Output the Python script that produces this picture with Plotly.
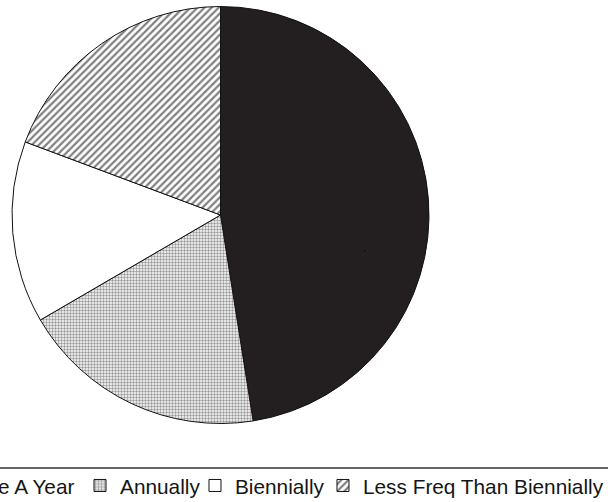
import plotly.graph_objects as go

# Survey shares by frequency (percent of respondents)
categories = ["More Than Once A Year", "Annually", "Biennially", "Less Freq Than Biennially"]
shares = [47.5, 19.1, 14.1, 19.3]

# Monochrome print styling: solid black, stipple, plain white, diagonal hatch
fills = ["#231f20", "#ffffff", "#ffffff", "#ffffff"]
shapes = ["", ".", "", "/"]
pattern_fg = ["#231f20", "#9a9a9a", "#ffffff", "#808080"]
pattern_size = [6, 3, 6, 5]
pattern_solidity = [0.3, 0.5, 0.3, 0.45]

legend_ids = ["legend", "legend2", "legend3", "legend4"]
legend_x = [-0.306, 0.1316, 0.3207, 0.5312]

FONT = dict(family="Liberation Sans, Arial, sans-serif", size=20.8, color="#151515")

fig = go.Figure()

# Main pie, starting at 12 o'clock and running clockwise
fig.add_trace(go.Pie(
    labels=categories,
    values=shares,
    sort=False,
    direction="clockwise",
    rotation=0,
    textinfo="none",
    hoverinfo="label+percent",
    showlegend=False,
    domain=dict(x=[12 / 608, 429 / 608], y=[78.5 / 502, 495.5 / 502]),
    marker=dict(
        colors=fills,
        line=dict(color="#111111", width=1),
        pattern=dict(shape=shapes, fgcolor=pattern_fg, bgcolor=fills,
                     size=pattern_size, solidity=pattern_solidity),
    ),
))

# One legend per category so each key sits at its own position along the bottom rule
for i, cat in enumerate(categories):
    fig.add_trace(go.Pie(
        labels=[cat],
        values=[shares[i]],
        sort=False,
        textinfo="none",
        hoverinfo="skip",
        legend=legend_ids[i],
        domain=dict(x=[0.60, 0.6004], y=[0.50, 0.5004]),
        marker=dict(
            colors=[fills[i]],
            line=dict(color="#111111", width=1),
            pattern=dict(shape=[shapes[i]], fgcolor=[pattern_fg[i]], bgcolor=[fills[i]],
                         size=[pattern_size[i]], solidity=[pattern_solidity[i]]),
        ),
    ))

legend_common = dict(orientation="h", xanchor="left", y=0.032, yanchor="middle",
                     font=FONT, bgcolor="rgba(0,0,0,0)", borderwidth=0)

fig.update_layout(
    width=608,
    height=502,
    margin=dict(l=0, r=0, t=0, b=0, autoexpand=False),
    paper_bgcolor="white",
    plot_bgcolor="white",
    showlegend=True,
    shapes=[dict(type="line", xref="paper", yref="paper", x0=0, x1=1,
                 y0=1 - 468 / 502, y1=1 - 468 / 502,
                 line=dict(color="#666666", width=2))],
    **{lid: dict(legend_common, x=legend_x[i]) for i, lid in enumerate(legend_ids)},
)

fig.write_html("out.html")
